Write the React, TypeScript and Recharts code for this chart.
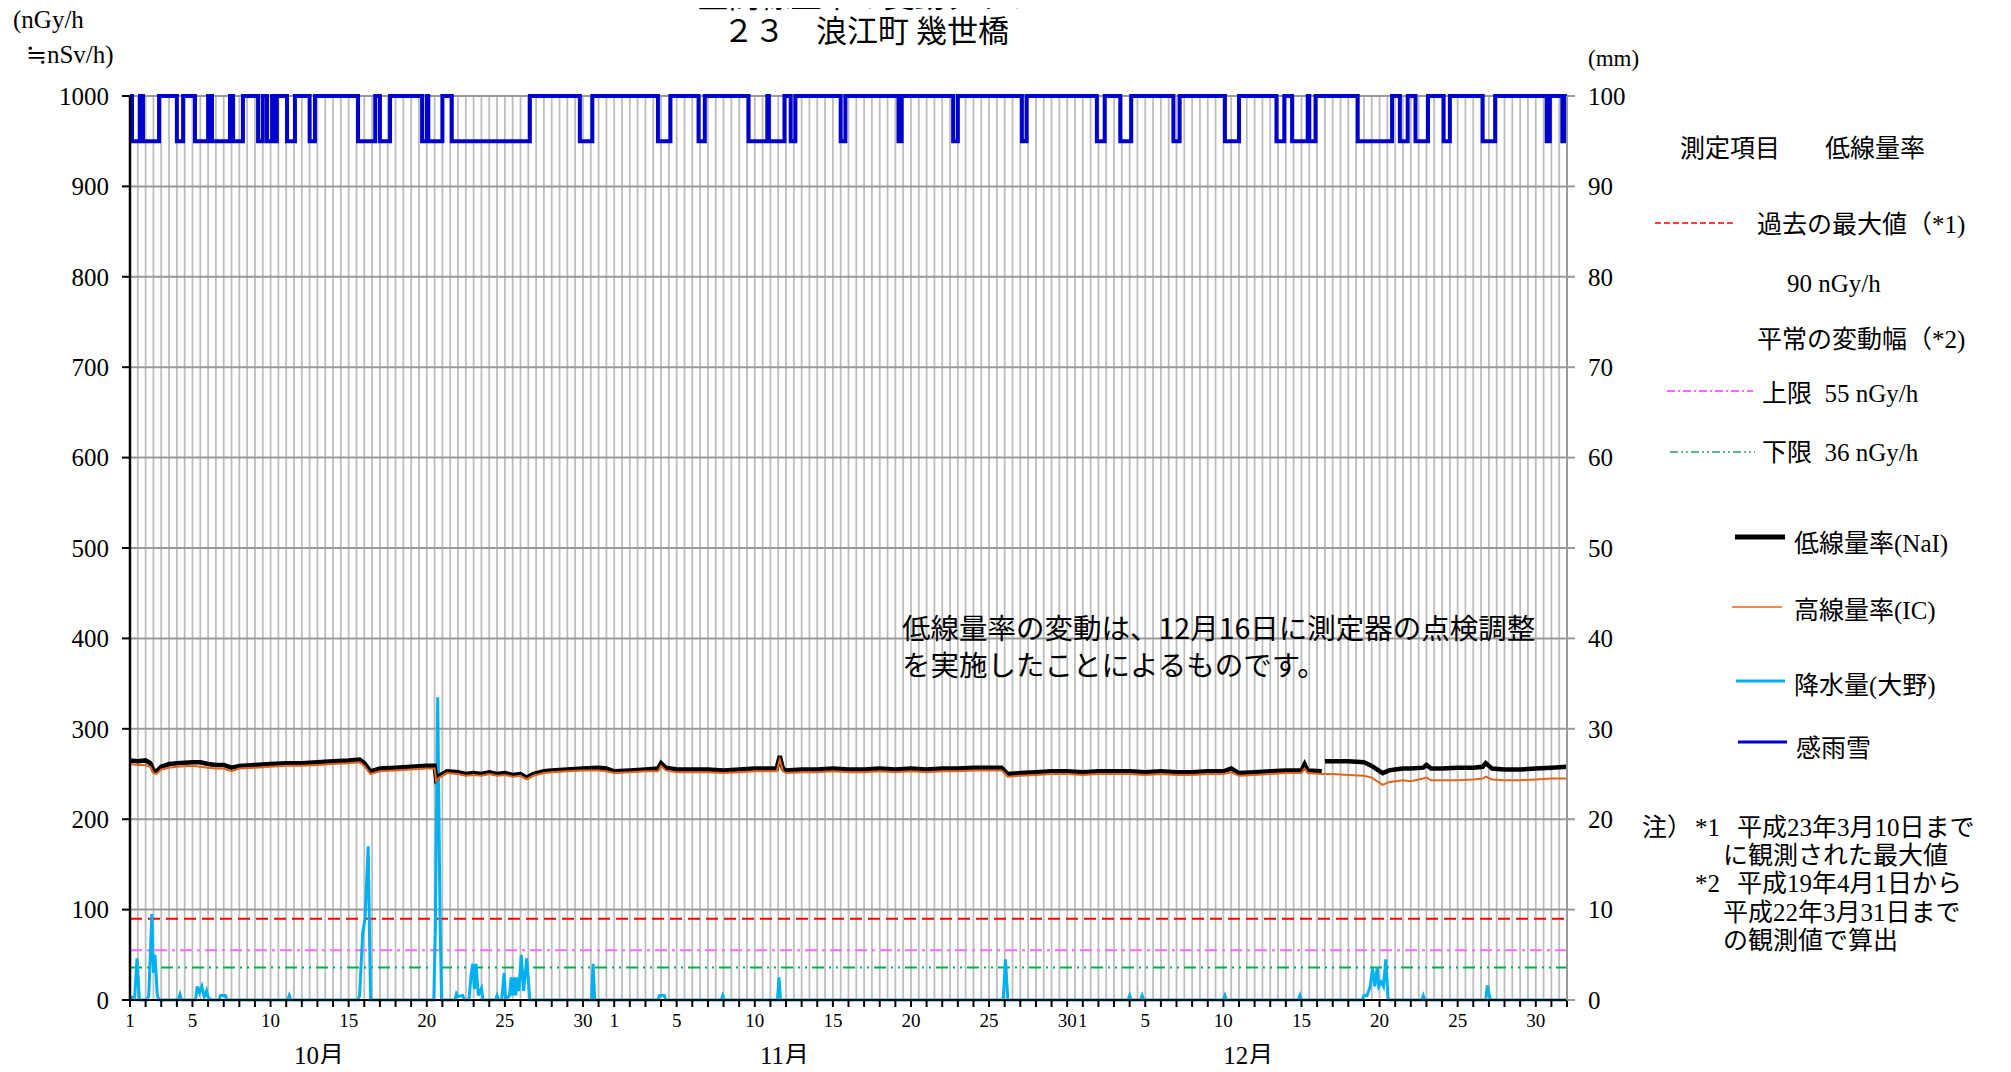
import React from 'react';
import { ComposedChart, Line, XAxis, YAxis, CartesianGrid, ReferenceLine } from 'recharts';

// ---------- data ----------
const MONTHS = ['10月', '11月', '12月'];
const MONTH_DAYS = [31, 30, 31];
const DAY_TICK_LABELS = [1, 5, 10, 15, 20, 25, 30];
const MONTH_LABEL_POS = [12.1, 41.9, 71.6];
const LEFT_TICKS = [0, 100, 200, 300, 400, 500, 600, 700, 800, 900, 1000];
const RIGHT_TICKS = [0, 10, 20, 30, 40, 50, 60, 70, 80, 90, 100];

const MAX_PAST = 90;
const UPPER = 55;
const LOWER = 36;

// time in days since Oct 1 00:00
const DOSE_T = [0, 0.5, 1.0, 1.3, 1.5, 1.7, 2.0, 2.5, 3.0, 4.0, 4.5, 5.0, 5.5, 6.0, 6.5, 7.0, 8.0, 9.0, 10.0, 11.0, 12.0, 13.0, 14.0, 14.7, 15.0, 15.4, 16.0, 17.0, 18.0, 19.0, 19.5, 19.6, 19.8, 20.3, 21.0, 21.5, 22.0, 22.5, 23.0, 23.5, 24.0, 24.5, 25.0, 25.4, 25.8, 26.5, 27.0, 28.0, 29.0, 30.0, 30.5, 31.0, 32.0, 33.0, 33.8, 34.0, 34.3, 35.0, 36.0, 37.0, 38.0, 39.0, 40.0, 41.0, 41.4, 41.6, 41.8, 42.0, 43.0, 44.0, 45.0, 46.0, 47.0, 48.0, 49.0, 50.0, 51.0, 52.0, 53.0, 54.0, 55.0, 55.8, 56.2, 57.0, 58.0, 59.0, 60.0, 61.0, 62.0, 63.0, 64.0, 65.0, 66.0, 67.0, 68.0, 69.0, 70.0, 70.5, 71.0, 72.0, 73.0, 74.0, 75.0, 75.2, 75.4, 76.3, 76.4, 76.5, 77.0, 78.0, 79.0, 79.5, 80.2, 80.6, 81.0, 81.5, 82.0, 82.8, 83.0, 83.3, 84.0, 85.0, 86.0, 86.6, 86.8, 87.2, 88.0, 89.0, 90.0, 91.0, 92.0];
const NAI = [265, 264, 265, 262, 254, 253, 258, 261, 262, 263, 263, 261, 260, 260, 257, 259, 260, 261, 262, 262, 263, 264, 265, 266, 262, 253, 256, 257, 258, 259, 259, 244, 248, 253, 252, 250, 251, 250, 252, 250, 251, 249, 250, 246, 250, 253, 254, 255, 256, 257, 256, 253, 254, 255, 256, 262, 257, 255, 255, 255, 254, 255, 256, 256, 256, 270, 256, 254, 255, 255, 256, 255, 255, 256, 255, 256, 255, 256, 256, 257, 257, 257, 250, 251, 252, 253, 253, 252, 253, 253, 253, 252, 253, 252, 252, 253, 253, 256, 251, 252, 253, 254, 254, 261, 254, 253, null, 264, 264, 264, 263, 259, 251, 254, 255, 256, 256, 257, 260, 256, 256, 257, 257, 258, 262, 256, 255, 255, 256, 257, 258];
const IC = [261, 260, 260, 258, 251, 250, 255, 257, 258, 259, 258, 257, 256, 256, 253, 256, 257, 258, 259, 259, 260, 261, 262, 263, 259, 250, 253, 254, 255, 256, 256, 242, 246, 251, 250, 248, 249, 248, 250, 248, 249, 247, 248, 244, 248, 251, 252, 253, 254, 254, 253, 251, 252, 253, 253, 259, 254, 252, 252, 252, 251, 252, 253, 253, 253, 266, 253, 251, 252, 252, 253, 252, 252, 253, 252, 253, 252, 253, 253, 254, 254, 254, 247, 248, 249, 250, 250, 249, 250, 250, 250, 249, 250, 249, 249, 250, 250, 252, 248, 249, 250, 251, 251, 256, 251, 250, 250, 250, 250, 249, 248, 246, 238, 241, 242, 243, 242, 245, 246, 243, 243, 243, 244, 245, 247, 244, 243, 243, 244, 245, 245];

const RAIN_T = [0, 0.1, 0.3, 0.45, 0.6, 1.1, 1.2, 1.4, 1.5, 1.6, 1.75, 1.85, 3.1, 3.2, 3.3, 4.2, 4.3, 4.45, 4.6, 4.75, 4.9, 5.0, 5.2, 5.7, 5.8, 6.1, 6.2, 10.1, 10.2, 10.3, 14.6, 14.7, 14.9, 15.05, 15.25, 15.4, 19.45, 19.55, 19.7, 19.85, 19.95, 20.8, 20.9, 21.0, 21.3, 21.4, 21.7, 21.85, 21.95, 22.05, 22.15, 22.3, 22.5, 22.6, 23.4, 23.5, 23.6, 23.8, 23.95, 24.05, 24.3, 24.4, 24.5, 24.6, 24.7, 24.8, 24.9, 25.05, 25.2, 25.4, 25.6, 29.55, 29.65, 29.75, 33.8, 33.9, 34.2, 34.3, 37.85, 37.95, 38.05, 41.45, 41.55, 41.65, 55.9, 56.05, 56.2, 63.9, 64.0, 64.1, 64.7, 64.8, 64.9, 70.0, 70.1, 70.2, 74.8, 74.9, 75.0, 78.9, 79.0, 79.2, 79.4, 79.55, 79.7, 79.85, 79.95, 80.1, 80.25, 80.4, 80.55, 82.7, 82.8, 82.9, 86.8, 86.9, 87.05, 87.15, 92];
const RAIN_MM = [0, 0.3, 0.3, 4.6, 0, 0, 0.5, 9.5, 3, 5, 0.5, 0, 0, 0.6, 0, 0, 1.5, 0.8, 1.5, 0.3, 1.0, 0.3, 0, 0, 0.5, 0.5, 0, 0, 0.5, 0, 0, 0.5, 7.5, 9, 17, 0, 0, 8, 33.5, 9, 0, 0, 0.7, 0.4, 0.5, 0, 0, 3, 4, 1.2, 4, 0.5, 1.3, 0, 0, 0.5, 0, 0, 3, 0, 0.5, 2.5, 0.5, 2.5, 0.5, 2.5, 1, 5, 1, 4.6, 0, 0, 4, 0, 0, 0.5, 0.5, 0, 0, 0.5, 0, 0, 2.5, 0, 0, 4.5, 0, 0, 0.5, 0, 0, 0.5, 0, 0, 0.5, 0, 0, 0.5, 0, 0, 0.5, 0.5, 1.5, 3.5, 1.5, 3.6, 1.5, 2, 1.5, 4.5, 0, 0, 0.5, 0, 0, 1.6, 0.3, 0, 0];

// rain/snow sensor detection intervals [start, end] in days
const SENSOR_ON = [[0.13, 0.64], [0.83, 1.86], [3.0, 3.4], [4.16, 5.0], [5.25, 6.4], [6.6, 7.23], [8.2, 8.5], [8.77, 9.1], [9.15, 9.4], [10.05, 10.56], [11.5, 11.84], [14.6, 15.7], [16.0, 16.65], [18.7, 19.0], [19.1, 20.0], [20.6, 25.6], [28.8, 29.6], [33.8, 34.6], [36.4, 36.8], [39.6, 40.8], [40.9, 41.9], [42.3, 42.6], [45.5, 45.8], [49.2, 49.4], [52.7, 53.0], [57.1, 57.4], [61.9, 62.4], [63.4, 64.1], [66.8, 67.2], [70.1, 71.0], [73.4, 73.9], [74.4, 75.4], [75.5, 75.9], [78.6, 80.8], [81.3, 81.8], [82.3, 83.1], [84.1, 84.5], [86.6, 87.4], [90.7, 90.9], [91.7, 91.9]];
const SENSOR_OFF_LEVEL = 100;
const SENSOR_ON_LEVEL = 95;

// ---------- derived tables ----------
const TOTAL_DAYS = MONTH_DAYS.reduce((a, b) => a + b, 0);
const doseData = DOSE_T.map((t, i) => ({ x: t, nai: NAI[i], ic: IC[i] }));
const rainData = RAIN_T.map((t, i) => ({ x: t, mm: RAIN_MM[i] }));
const sensorData: { x: number; v: number }[] = [{ x: 0, v: SENSOR_OFF_LEVEL }];
SENSOR_ON.forEach(([s, e]) => {
  sensorData.push({ x: s, v: SENSOR_OFF_LEVEL }, { x: s, v: SENSOR_ON_LEVEL }, { x: e, v: SENSOR_ON_LEVEL }, { x: e, v: SENSOR_OFF_LEVEL });
});
sensorData.push({ x: TOTAL_DAYS, v: SENSOR_OFF_LEVEL });

const dayTicks: number[] = [];
const dayLabel: Record<number, string> = {};
let off = 0;
MONTH_DAYS.forEach((n) => {
  for (let d = 1; d <= n; d++) {
    dayTicks.push(off + d - 1);
    if (DAY_TICK_LABELS.includes(d)) dayLabel[off + d - 1] = String(d);
  }
  off += n;
});
dayTicks.push(TOTAL_DAYS);
const gridTicks: number[] = [];
for (let i = 0; i <= TOTAL_DAYS * 2; i++) gridTicks.push(i / 2);

const SERIF = "'Liberation Serif', 'DejaVu Serif', 'Noto Sans CJK JP', serif";
const SANS = "'Noto Sans CJK JP', 'Noto Sans', sans-serif";

const DayTick = (props: any) => {
  const { x, y, payload } = props;
  const lab = dayLabel[payload.value];
  if (!lab) return <g />;
  return (
    <text x={x} y={y} dy={18} textAnchor="middle" fontSize={19} fontFamily={SERIF} fill="#000">
      {lab}
    </text>
  );
};

const MonthTick = (props: any) => {
  const { x, y, payload } = props;
  const idx = MONTH_LABEL_POS.indexOf(payload.value);
  return (
    <text x={x} y={y} dy={-3} textAnchor="middle" fontSize={25} fontFamily={SERIF} fill="#000">
      {MONTHS[idx]}
    </text>
  );
};

const OX = 8;
const OY = 8;

const Txt = ({ left, cy, children, size = 25, family = SERIF, center = false }: any) => (
  <div
    style={{
      position: 'absolute',
      left: left - OX,
      top: cy - OY,
      transform: center ? 'translate(-50%, -50%)' : 'translateY(-50%)',
      whiteSpace: 'nowrap',
      lineHeight: 1,
      fontSize: size,
      fontFamily: family,
      color: '#000',
    }}
  >
    {children}
  </div>
);

const Sample = ({ x1, x2, y, color, width, dash }: any) => (
  <svg
    style={{ position: 'absolute', left: x1 - OX, top: y - OY - 6, overflow: 'visible' }}
    width={x2 - x1}
    height={12}
  >
    <line x1={0} y1={6} x2={x2 - x1} y2={6} stroke={color} strokeWidth={width} strokeDasharray={dash} />
  </svg>
);

export default function App() {
  return (
    <div style={{ position: 'relative', width: 1995, height: 1056 }}>
      <ComposedChart
        width={1995}
        height={1064}
        margin={{ top: 88, right: 356, left: 0, bottom: 8 }}
        style={{ overflow: 'visible' }}
      >
        <XAxis xAxisId="g" type="number" dataKey="x" domain={[0, TOTAL_DAYS]} ticks={gridTicks} hide allowDataOverflow interval={0} />
        <XAxis
          xAxisId="d"
          type="number"
          dataKey="x"
          domain={[0, TOTAL_DAYS]}
          ticks={dayTicks}
          interval={0}
          allowDataOverflow
          height={35}
          tickSize={7}
          axisLine={{ stroke: '#000', strokeWidth: 2 }}
          tickLine={{ stroke: '#000', strokeWidth: 2 }}
          tick={<DayTick />}
        />
        <XAxis
          xAxisId="m"
          type="number"
          dataKey="x"
          domain={[0, TOTAL_DAYS]}
          ticks={MONTH_LABEL_POS}
          interval={0}
          allowDataOverflow
          height={29}
          tickSize={0}
          axisLine={false}
          tickLine={false}
          tick={<MonthTick />}
        />
        <YAxis
          yAxisId="L"
          domain={[0, 1000]}
          ticks={LEFT_TICKS}
          interval={0}
          width={122}
          tickSize={8}
          tickMargin={13}
          axisLine={{ stroke: '#000', strokeWidth: 2.5 }}
          tickLine={{ stroke: '#000', strokeWidth: 2 }}
          tick={{ fontSize: 25, fontFamily: SERIF, fill: '#000' }}
        />
        <YAxis
          yAxisId="R"
          orientation="right"
          domain={[0, 100]}
          ticks={RIGHT_TICKS}
          interval={0}
          width={80}
          tickSize={8}
          tickMargin={13}
          axisLine={{ stroke: '#999', strokeWidth: 2 }}
          tickLine={{ stroke: '#999', strokeWidth: 2 }}
          tick={{ fontSize: 25, fontFamily: SERIF, fill: '#000', textAnchor: 'start' }}
        />
        <CartesianGrid xAxisId="g" yAxisId="L" horizontal={false} stroke="#bdbdbd" strokeWidth={1.8} />
        <CartesianGrid xAxisId="d" yAxisId="L" vertical={false} stroke="#9a9a9a" strokeWidth={2} />

        <ReferenceLine xAxisId="d" yAxisId="L" y={MAX_PAST} stroke="#ff0000" strokeWidth={2} strokeDasharray="12 6" />
        <ReferenceLine xAxisId="d" yAxisId="L" y={UPPER} stroke="#ff66ff" strokeWidth={2} strokeDasharray="12 5 3 5" />
        <ReferenceLine xAxisId="d" yAxisId="L" y={LOWER} stroke="#00b050" strokeWidth={2} strokeDasharray="12 5 2 5 2 5" />

        <Line
          xAxisId="d"
          yAxisId="R"
          data={rainData}
          dataKey="mm"
          type="linear"
          stroke="#00b0f0"
          strokeWidth={3}
          dot={false}
          isAnimationActive={false}
        />
        <Line
          xAxisId="d"
          yAxisId="L"
          data={doseData}
          dataKey="nai"
          type="linear"
          stroke="#000"
          strokeWidth={4.5}
          dot={false}
          connectNulls={false}
          isAnimationActive={false}
        />
        <Line
          xAxisId="d"
          yAxisId="L"
          data={doseData}
          dataKey="ic"
          type="linear"
          stroke="#e2661c"
          strokeWidth={2}
          dot={false}
          isAnimationActive={false}
        />
        <Line
          xAxisId="d"
          yAxisId="R"
          data={sensorData}
          dataKey="v"
          type="linear"
          stroke="#0000cc"
          strokeWidth={4}
          dot={false}
          isAnimationActive={false}
        />
      </ComposedChart>

      {/* titles */}
      <Txt left={868} cy={-7} size={31} family={SANS} center>空間線量率の変動グラフ</Txt>
      <Txt left={866} cy={28} size={31} family={SANS} center>２３　浪江町 幾世橋</Txt>
      <Txt left={13} cy={19} size={25}>(nGy/h</Txt>
      <Txt left={26} cy={54} size={25}>≒nSv/h)</Txt>
      <Txt left={1588} cy={58} size={23}>(mm)</Txt>

      {/* annotation */}
      <Txt left={902} cy={627} size={28.5} family={SANS}>低線量率の変動は、12月16日に測定器の点検調整</Txt>
      <Txt left={902} cy={664} size={28.5} family={SANS}>を実施したことによるものです。</Txt>

      {/* legend */}
      <Txt left={1680} cy={148}>測定項目</Txt>
      <Txt left={1825} cy={148}>低線量率</Txt>
      <Sample x1={1655} x2={1735} y={223} color="#ff0000" width={1.5} dash="6 3" />
      <Txt left={1757} cy={224}>過去の最大値（*1)</Txt>
      <Txt left={1787} cy={283}>90 nGy/h</Txt>
      <Txt left={1757} cy={339}>平常の変動幅（*2)</Txt>
      <Sample x1={1667} x2={1753} y={391} color="#ff33ff" width={1.5} dash="8 3 2 3" />
      <Txt left={1762} cy={393}>上限&nbsp;&nbsp;55 nGy/h</Txt>
      <Sample x1={1670} x2={1755} y={452} color="#2e9e5e" width={1.5} dash="8 3 2 3 2 3" />
      <Txt left={1762} cy={452}>下限&nbsp;&nbsp;36 nGy/h</Txt>
      <Sample x1={1735} x2={1785} y={537} color="#000" width={5} />
      <Txt left={1794} cy={543}>低線量率(NaI)</Txt>
      <Sample x1={1732} x2={1782} y={607} color="#e2661c" width={1.5} />
      <Txt left={1794} cy={610}>高線量率(IC)</Txt>
      <Sample x1={1736} x2={1785} y={681} color="#00b0f0" width={3} />
      <Txt left={1794} cy={685}>降水量(大野)</Txt>
      <Sample x1={1738} x2={1787} y={742} color="#0000cc" width={3} />
      <Txt left={1796} cy={748}>感雨雪</Txt>

      {/* notes */}
      <Txt left={1642} cy={827}>注）</Txt>
      <Txt left={1695} cy={827}>*1</Txt>
      <Txt left={1737} cy={827}>平成23年3月10日まで</Txt>
      <Txt left={1723} cy={855}>に観測された最大値</Txt>
      <Txt left={1695} cy={883}>*2</Txt>
      <Txt left={1737} cy={883}>平成19年4月1日から</Txt>
      <Txt left={1723} cy={912}>平成22年3月31日まで</Txt>
      <Txt left={1723} cy={940}>の観測値で算出</Txt>
    </div>
  );
}
